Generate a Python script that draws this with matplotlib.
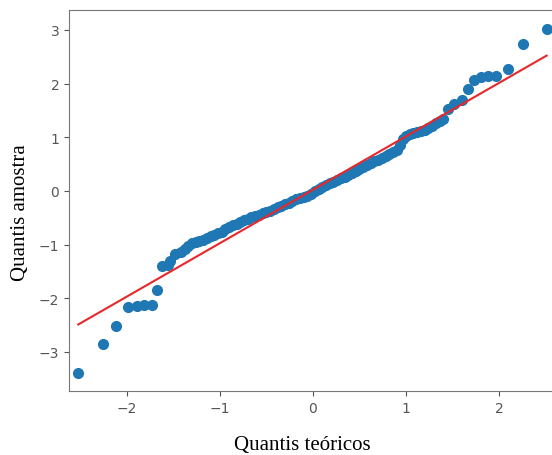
'''QQ plot: quantis teoricos vs quantis da amostra'''

import matplotlib
matplotlib.use("Agg")
import matplotlib.pyplot as plt

# lower tail (isolated points)
tail_low_x = [-2.52, -2.26, -2.11, -1.99, -1.89, -1.81, -1.73, -1.67,
              -1.62, -1.56, -1.53, -1.48, -1.42, -1.37]
tail_low_y = [-3.40, -2.86, -2.52, -2.17, -2.14, -2.12, -2.12, -1.84,
              -1.40, -1.38, -1.30, -1.17, -1.14, -1.08]

# dense middle band
band_x = [-1.34, -1.30, -1.26, -1.22, -1.18, -1.14, -1.10, -1.06, -1.02, -0.98,
          -0.94, -0.90, -0.86, -0.82, -0.78, -0.74, -0.70, -0.66, -0.62, -0.58,
          -0.54, -0.50, -0.46, -0.42, -0.38, -0.34, -0.30, -0.26, -0.22, -0.18,
          -0.14, -0.10, -0.06, -0.02, 0.02, 0.06, 0.10, 0.14, 0.18, 0.22,
          0.26, 0.30, 0.34, 0.38, 0.42, 0.46, 0.50, 0.54, 0.58, 0.62,
          0.66, 0.70, 0.74, 0.78, 0.82, 0.86, 0.90, 0.94, 0.97, 1.00,
          1.04, 1.08, 1.12, 1.16, 1.20, 1.24, 1.28, 1.32, 1.36, 1.40]
band_y = [-1.03, -0.98, -0.96, -0.94, -0.91, -0.88, -0.85, -0.82, -0.79, -0.76,
          -0.72, -0.67, -0.64, -0.61, -0.58, -0.55, -0.52, -0.49, -0.47, -0.45,
          -0.42, -0.40, -0.37, -0.34, -0.31, -0.28, -0.25, -0.22, -0.19, -0.16,
          -0.13, -0.11, -0.09, -0.05, -0.01, 0.03, 0.07, 0.11, 0.14, 0.17,
          0.20, 0.23, 0.26, 0.30, 0.34, 0.37, 0.41, 0.45, 0.49, 0.52,
          0.55, 0.58, 0.62, 0.65, 0.69, 0.73, 0.77, 0.86, 0.96, 1.02,
          1.05, 1.07, 1.10, 1.12, 1.14, 1.17, 1.21, 1.26, 1.30, 1.34]

# upper tail
tail_up_x = [1.45, 1.52, 1.60, 1.67, 1.73, 1.80, 1.88, 1.97, 2.10, 2.26, 2.51]
tail_up_y = [1.53, 1.61, 1.69, 1.90, 2.07, 2.12, 2.14, 2.14, 2.27, 2.74, 3.02]

# reference line
line_x = [-2.52, 2.51]
line_y = [-2.49, 2.52]

xticks = [-2, -1, 0, 1, 2]
yticks = [-3, -2, -1, 0, 1, 2, 3]

qx = tail_low_x + band_x + tail_up_x
qy = tail_low_y + band_y + tail_up_y

fig = plt.figure(figsize=(5.52, 4.56), dpi=100)
ax = fig.add_axes([69 / 552, 64 / 456, 486 / 552, 381 / 456])

ax.plot(qx, qy, 'o', color='#1f77b4', markersize=7, linestyle='none')
ax.plot(line_x, line_y, color='#e8272b', linewidth=1.5)

ax.set_xlim(-2.62, 2.60)
ax.set_ylim(-3.73, 3.37)
ax.set_xticks(xticks)
ax.set_yticks(yticks)
ax.set_xticklabels(['\u2212' + str(-t) if t < 0 else str(t) for t in xticks])
ax.set_yticklabels(['\u2212' + str(-t) if t < 0 else str(t) for t in yticks])
ax.tick_params(colors='#555555', labelsize=10, length=3.5)
for s in ax.spines.values():
    s.set_color('#777777')

fig.text(302 / 552, 1 - 446 / 456, 'Quantis te\u00f3ricos', family='Liberation Serif',
         fontsize=15, ha='center', va='center')
fig.text(21 / 552, 1 - 213 / 456, 'Quantis amostra', family='Liberation Serif',
         fontsize=15, ha='center', va='center', rotation=90)

fig.savefig('out.png', dpi=100)
